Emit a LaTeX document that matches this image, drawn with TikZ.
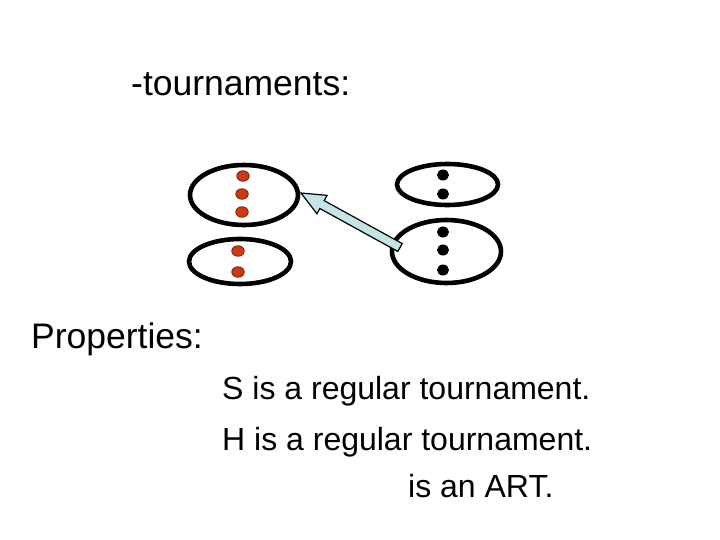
\documentclass[tikz,border=0pt]{standalone}
\usepackage{fontspec}
\setmainfont{Liberation Sans}
\usetikzlibrary{shapes.geometric,calc}
\definecolor{dotred}{RGB}{204,58,20}
\definecolor{dotedge}{RGB}{120,30,10}
\definecolor{arrowfill}{RGB}{196,228,230}
\tikzset{
  group/.style={draw=black,line width=4.6pt,ellipse,inner sep=0pt,outer sep=0pt},
  reddot/.style={ellipse,fill=dotred,draw=dotedge,line width=0.8pt,minimum width=12.5pt,minimum height=10.5pt,inner sep=0pt},
  blackdot/.style={ellipse,fill=black,minimum width=12pt,minimum height=11pt,inner sep=0pt},
  label/.style={anchor=base west,inner sep=0pt,font=\fontsize{32}{38}\selectfont},
  biglabel/.style={anchor=base west,inner sep=0pt,font=\fontsize{35.5}{42}\selectfont},
  bigarrow/.style={fill=arrowfill,draw=black,line width=1.2pt,line join=miter}
}
\begin{document}
\begin{tikzpicture}[x=1pt,y=-1pt]
\useasboundingbox[fill=white] (0,0) rectangle (720,540);
% ellipses
\node[group,minimum width=108pt,minimum height=60pt] (LT) at (244,195) {};
\node[group,minimum width=102pt,minimum height=45pt] (LB) at (240,261.5) {};
\node[group,minimum width=101pt,minimum height=41pt] (RT) at (447.5,184.5) {};
\node[group,minimum width=109pt,minimum height=63pt] (RB) at (446.5,251.5) {};
% red dots
\node[reddot] (r1) at (243,176) {};
\node[reddot] (r2) at (242,194) {};
\node[reddot] (r3) at (242,212) {};
\node[reddot] (r4) at (238,251) {};
\node[reddot] (r5) at (238,272) {};
% black dots
\node[blackdot] (b1) at (443,175) {};
\node[blackdot] (b2) at (443,194) {};
\node[blackdot] (b3) at (443,232) {};
\node[blackdot] (b4) at (443,250) {};
\node[blackdot] (b5) at (443,270) {};
% arrow
\coordinate (P) at ($(LT.east)+(3,-2)$);
\coordinate (T) at ($(RB.west)+(8,-4)$);
\coordinate (H) at ($(P)!24pt!(T)$);
\draw[bigarrow]
  ($(T)!4.5pt!90:(P)$) -- ($(H)!4.5pt!90:(P)$) -- ($(H)!10.5pt!90:(P)$) -- (P)
  -- ($(H)!10.5pt!-90:(P)$) -- ($(H)!4.5pt!-90:(P)$) -- ($(T)!4.5pt!-90:(P)$) -- cycle;
% texts
\node[biglabel] (title) at (131,96) {-tournaments:};
\node[biglabel] (props) at (31,348) {Properties:};
\node[label] (s1) at (222,399) {S is a regular tournament.};
\node[label] (s2) at (222,450) {H is a regular tournament.};
\node[label] (s3) at (408,497) {is an ART.};
\end{tikzpicture}
\end{document}
